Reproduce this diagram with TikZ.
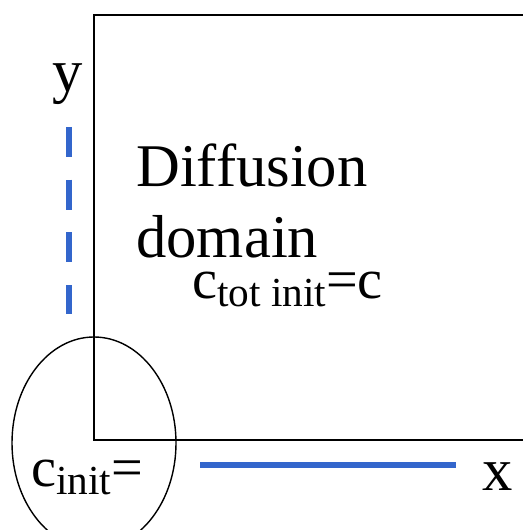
\documentclass[tikz,border=0pt]{standalone}
\usepackage{fontspec}
\setmainfont{Liberation Serif}
\definecolor{barblue}{RGB}{51,102,204}
\newcommand{\lowsub}[1]{\raisebox{-0.3ex}{\fontsize{23.5}{28}\selectfont #1}}

\begin{document}
\begin{tikzpicture}[x=0.02cm,y=0.02cm,
  lbl/.style={inner sep=0pt,font=\fontsize{34.5}{41}\selectfont},
  clbl/.style={inner sep=0pt,font=\fontsize{32}{38}\selectfont},
  bluebar/.style={color=barblue,line width=3.6pt}]
\useasboundingbox (0,0) rectangle (523,530);
% domain border
\coordinate (TL) at (94,515);
\coordinate (TR) at (523,515);
\coordinate (O) at (94,90);
\coordinate (BR) at (523,90);
\draw[line width=1.1pt] (TR) -- (TL) -- (O) -- (BR);
% boundaries
\coordinate (ytop) at (69,403);
\coordinate (ybot) at (69,216);
\coordinate (xleft) at (200,65);
\coordinate (xright) at (456,65);
\draw[bluebar,dash pattern=on 17pt off 13pt] (ytop) -- (ybot);
\draw[bluebar] (xleft) -- (xright);
% source region
\coordinate (src) at (94,87);
\draw[line width=0.8pt] (src) ellipse [x radius=82, y radius=106];
% labels
\node[lbl,anchor=base west,text depth=0pt] (diff) at (136,343) {Diffusion};
\node[lbl,anchor=base west,text depth=0pt] (dom) at (136,272) {domain};
\node[clbl,anchor=base west,text height=12pt] (ctot) at (192,231) {c\lowsub{tot init}=c};
\node[lbl,anchor=base] (ylab) at (68,438) {y};
\node[lbl,anchor=base] (xlab) at (498,39) {x};
\node[clbl,anchor=base west] (cinit) at (31,43) {c\lowsub{init}=};
\end{tikzpicture}
\end{document}
